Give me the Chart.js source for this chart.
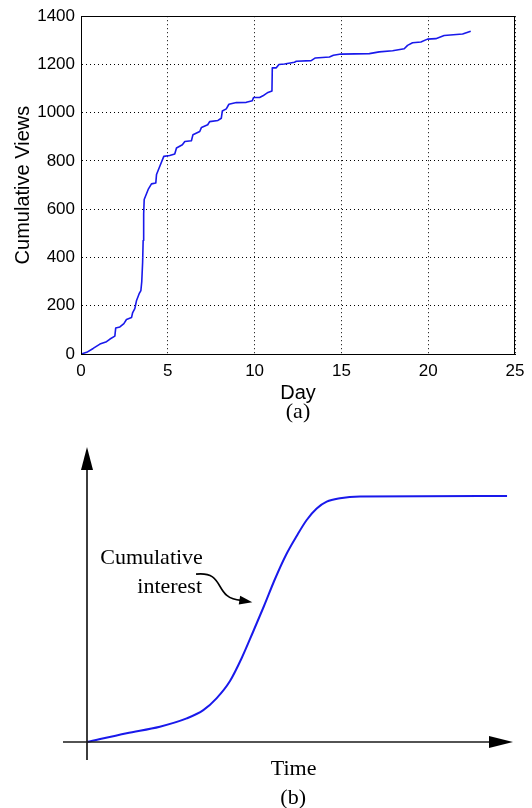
<!DOCTYPE html>
<html>
<head>
<meta charset="utf-8">
<script src="https://cdn.jsdelivr.net/npm/chart.js@4.4.1/dist/chart.umd.min.js"></script>
<style>
  html, body { margin: 0; padding: 0; background: #fff; overflow: hidden; }
  #wrap { position: relative; width: 532px; height: 808px; }
  canvas { position: absolute; left: 0; }
  #c1 { top: 0; }
  #c2 { top: 430px; }
</style>
</head>
<body>
<div id="wrap">
  <canvas id="c1" width="532" height="430"></canvas>
  <canvas id="c2" width="532" height="378"></canvas>
</div>
<script>
// ---------- Data: panel (a) ----------
const days = [0, 0.33, 0.7, 1.09, 1.47, 1.67, 1.95, 2.0, 2.24, 2.47, 2.62, 2.91, 2.97, 3.1, 3.2, 3.35, 3.45, 3.5, 3.55, 3.58, 3.61, 3.64, 3.87, 4.06, 4.31, 4.35, 4.54, 4.77, 5.11, 5.4, 5.5, 5.84, 5.98, 6.36, 6.45, 6.84, 6.94, 7.3, 7.41, 7.89, 8.08, 8.14, 8.37, 8.52, 8.95, 9.52, 9.87, 9.94, 10.29, 10.48, 10.77, 11.0, 11.02, 11.25, 11.4, 11.72, 12.3, 12.4, 13.26, 13.5, 14.31, 14.54, 14.98, 16.61, 17.18, 17.95, 18.62, 18.81, 19.1, 19.58, 19.96, 20.44, 20.92, 21.98, 22.45];
const views = [0, 7, 23, 41, 51, 62, 74, 108, 112, 126, 143, 151, 170, 188, 222, 250, 263, 300, 380, 470, 580, 640, 682, 705, 709, 744, 778, 819, 823, 829, 854, 867, 881, 884, 909, 922, 939, 950, 963, 968, 977, 1007, 1016, 1035, 1042, 1043, 1050, 1063, 1063, 1070, 1084, 1090, 1186, 1186, 1200, 1202, 1209, 1213, 1216, 1227, 1231, 1238, 1243, 1245, 1252, 1257, 1265, 1279, 1290, 1293, 1305, 1307, 1320, 1326, 1338];
const xTicksA = [0, 5, 10, 15, 20, 25];
const yTicksA = [0, 200, 400, 600, 800, 1000, 1200, 1400];

// ---------- Data: panel (b) (schematic) ----------
const timeB = [0, 0.93, 1.71, 2.34, 2.73, 3.04, 3.357, 3.632, 3.897, 4.155, 4.413, 4.671, 4.923, 5.157, 5.392, 5.627, 5.939, 6.41, 9.86];
const interestB = [0, 0.30, 0.52, 0.80, 1.08, 1.48, 2.068, 2.847, 3.729, 4.610, 5.525, 6.339, 6.983, 7.525, 7.915, 8.146, 8.261, 8.32, 8.34];
const annotationLines = ['Cumulative', 'interest'];

const SANS = '"Liberation Sans", Arial, Helvetica, sans-serif';
const SERIF = '"Liberation Serif", "Times New Roman", serif';
const BLUE = 'rgb(25,25,235)';

// ---------- Panel (a) ----------
const frameBox = {
  id: 'frameBox',
  afterDraw(chart) {
    const {ctx, chartArea: a} = chart;
    ctx.save();
    ctx.strokeStyle = '#000';
    ctx.lineWidth = 1;
    ctx.setLineDash([]);
    ctx.strokeRect(Math.round(a.left) + 0.5, Math.round(a.top) + 0.5,
                   Math.round(a.right - a.left) - 1, Math.round(a.bottom - a.top));
    ctx.restore();
  }
};

new Chart(document.getElementById('c1'), {
  type: 'line',
  data: {
    datasets: [{
      data: days.map((d, i) => ({x: d, y: views[i]})),
      borderColor: BLUE,
      borderWidth: 1.6,
      borderJoinStyle: 'round',
      pointRadius: 0,
      tension: 0,
      fill: false
    }]
  },
  options: {
    responsive: false,
    animation: false,
    events: [],
    layout: { padding: { left: 0, right: 17, top: 14, bottom: 7 } },
    plugins: {
      legend: { display: false },
      tooltip: { enabled: false },
      title: {
        display: true,
        text: '(a)',
        position: 'bottom',
        fullSize: false,
        color: '#000',
        padding: 0,
        font: { family: SERIF, size: 22, weight: 'normal', lineHeight: 1 }
      }
    },
    scales: {
      x: {
        type: 'linear',
        min: 0, max: 25,
        afterBuildTicks: s => { s.ticks = xTicksA.map(v => ({value: v})); },
        afterFit: s => { s.height = 47; },
        grid: { color: '#000', lineWidth: 1, drawTicks: false },
        border: { display: true, color: '#000', width: 1, dash: [1, 3] },
        ticks: { color: '#000', padding: 7, maxRotation: 0, font: { family: SANS, size: 17 },
                 callback: v => String(v) },
        title: {
          display: true, text: 'Day', color: '#000', padding: { top: 0, bottom: -2 },
          font: { family: SANS, size: 20, lineHeight: 1 }
        }
      },
      y: {
        type: 'linear',
        min: 0, max: 1400,
        afterBuildTicks: s => { s.ticks = yTicksA.map(v => ({value: v})); },
        afterFit: s => { s.width = 81; },
        grid: { color: '#000', lineWidth: 1, drawTicks: false },
        border: { display: true, color: '#000', width: 1, dash: [1, 3] },
        ticks: { color: '#000', padding: 6, font: { family: SANS, size: 17 },
                 callback: v => String(v) },
        title: {
          display: true, text: 'Cumulative Views', color: '#000',
          padding: { top: 11.5, bottom: 0 },
          font: { family: SANS, size: 20, lineHeight: 1.2 }
        }
      }
    }
  },
  plugins: [frameBox]
});

// ---------- Panel (b) ----------
const schematic = {
  id: 'schematic',
  afterDraw(chart) {
    const {ctx, chartArea: a, scales: {x, y}} = chart;
    ctx.save();
    ctx.strokeStyle = '#1a1a1a';
    ctx.fillStyle = '#000';
    ctx.lineWidth = 1.7;
    const ox = a.left, oy = a.bottom;
    // vertical axis with arrow
    ctx.beginPath();
    ctx.moveTo(ox, oy + 18);
    ctx.lineTo(ox, a.top + 22);
    ctx.stroke();
    ctx.beginPath();
    ctx.moveTo(ox, a.top);
    ctx.lineTo(ox - 6, a.top + 23);
    ctx.lineTo(ox + 6, a.top + 23);
    ctx.closePath();
    ctx.fill();
    // horizontal axis with arrow
    ctx.beginPath();
    ctx.moveTo(ox - 24, oy);
    ctx.lineTo(a.right - 23, oy);
    ctx.stroke();
    ctx.beginPath();
    ctx.moveTo(a.right, oy);
    ctx.lineTo(a.right - 24, oy - 6);
    ctx.lineTo(a.right - 24, oy + 6);
    ctx.closePath();
    ctx.fill();

    // annotation text
    ctx.fillStyle = '#000';
    ctx.font = '22px ' + SERIF;
    ctx.textAlign = 'right';
    ctx.textBaseline = 'middle';
    ctx.fillText(annotationLines[0], x.getPixelForValue(2.72), y.getPixelForValue(6.24));
    ctx.fillText(annotationLines[1], x.getPixelForValue(2.70), y.getPixelForValue(5.25));

    // squiggly annotation arrow (in data units)
    const P = (t, v) => [x.getPixelForValue(t), y.getPixelForValue(v)];
    const p0 = P(2.56, 5.69), c1 = P(3.28, 5.80), c2 = P(2.95, 4.86), p3 = P(3.62, 4.80), tip = P(3.88, 4.74);
    ctx.lineWidth = 1.6;
    ctx.strokeStyle = '#000';
    ctx.beginPath();
    ctx.moveTo(p0[0], p0[1]);
    ctx.bezierCurveTo(c1[0], c1[1], c2[0], c2[1], p3[0], p3[1]);
    ctx.stroke();
    const ang = Math.atan2(tip[1] - p3[1], tip[0] - p3[0]);
    const L = 13, W = 4.5;
    const bx = tip[0] - L * Math.cos(ang), by = tip[1] - L * Math.sin(ang);
    ctx.beginPath();
    ctx.moveTo(tip[0], tip[1]);
    ctx.lineTo(bx + W * Math.sin(ang), by - W * Math.cos(ang));
    ctx.lineTo(bx - W * Math.sin(ang), by + W * Math.cos(ang));
    ctx.closePath();
    ctx.fill();

    // labels
    ctx.textAlign = 'center';
    ctx.fillText('Time', x.getPixelForValue(4.85), oy + 27);
    ctx.fillText('(b)', x.getPixelForValue(4.84), oy + 56);
    ctx.restore();
  }
};

new Chart(document.getElementById('c2'), {
  type: 'line',
  data: {
    datasets: [{
      data: timeB.map((t, i) => ({x: t, y: interestB[i]})),
      borderColor: BLUE,
      borderWidth: 2,
      borderJoinStyle: 'round',
      pointRadius: 0,
      cubicInterpolationMode: 'monotone',
      fill: false,
      clip: false
    }]
  },
  options: {
    responsive: false,
    animation: false,
    events: [],
    layout: { padding: { left: 87, right: 19, top: 17, bottom: 66 } },
    plugins: { legend: { display: false }, tooltip: { enabled: false } },
    scales: {
      x: { type: 'linear', min: 0, max: 10, display: false },
      y: { type: 'linear', min: 0, max: 10, display: false }
    }
  },
  plugins: [schematic]
});
</script>
</body>
</html>
